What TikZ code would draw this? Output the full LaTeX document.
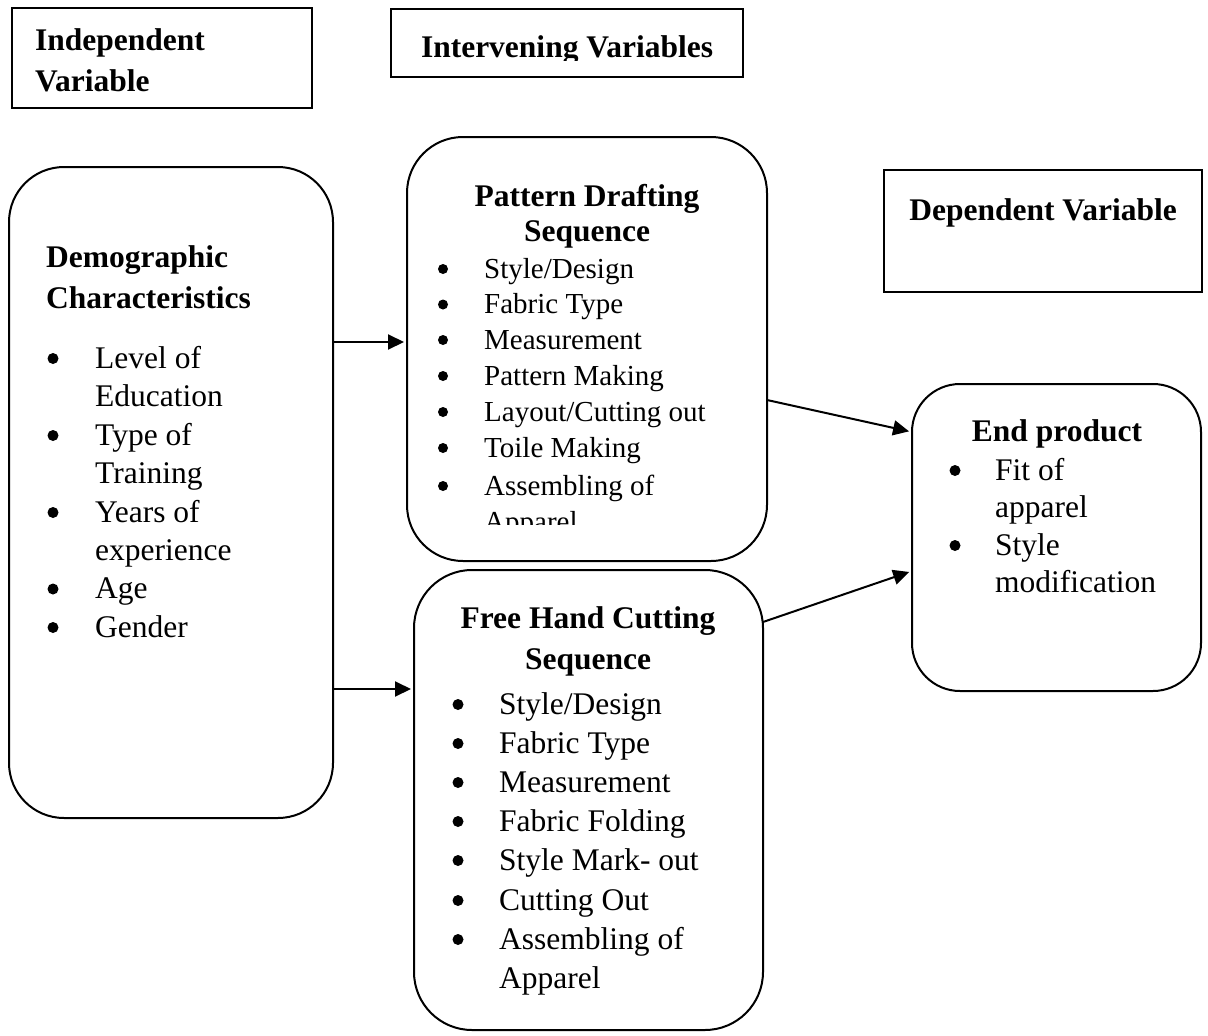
\documentclass[tikz,border=0pt]{standalone}
\usepackage{fontspec}
\setmainfont{Liberation Serif}
\usetikzlibrary{arrows.meta}
\begin{document}
\begin{tikzpicture}[x=1pt,y=-1pt,
  box/.style={draw, line width=2pt, rectangle, inner sep=0pt, outer sep=0pt, anchor=north west},
  rbox/.style={box, rounded corners=#1},
  head/.style={inner sep=0pt, anchor=base, font=\bfseries\fontsize{31.5}{38}\selectfont},
  headl/.style={inner sep=0pt, anchor=base west, font=\bfseries\fontsize{31.5}{38}\selectfont},
  item/.style={inner sep=0pt, anchor=base west, font=\fontsize{31.5}{38}\selectfont},
  itemsm/.style={inner sep=0pt, anchor=base west, font=\fontsize{29}{35}\selectfont},
  bul/.style={circle, fill=black, draw=none, inner sep=0pt, minimum size=#1},
  conn/.style={line width=2pt, shorten >=3pt, -{Triangle[length=16pt,width=15pt]}}
]
\fill[white, use as bounding box] (0,0) rectangle (1208,1036);

% ---- top label boxes ----
\node[box, minimum width=300pt, minimum height=100pt] (iv) at (12,8) {};
\node[headl] (ivt1) at (35,50) {Independent};
\node[headl] (ivt2) at (35,91) {Variable};

\node[box, minimum width=352pt, minimum height=68pt] (mv) at (391,9) {};
\begin{scope}
  \clip (391,9) rectangle (743,60);
  \node[head] (mvt) at (567,57) {Intervening Variables};
\end{scope}

\node[box, minimum width=318pt, minimum height=122pt] (dv) at (884,170) {};
\node[head] (dvt) at (1043,220) {Dependent Variable};

% ---- Demographic ----
\node[rbox=55pt, minimum width=324pt, minimum height=651pt] (demo) at (9,167) {};
\node[headl] (dh1) at (46,267) {Demographic};
\node[headl] (dh2) at (46,308) {Characteristics};
\foreach \n/\y/\b/\t in {1/368/1/{Level of}, 2/406.5/0/{Education}, 3/445/1/{Type of}, 4/483.5/0/{Training},
                         5/522/1/{Years of}, 6/560/0/{experience}, 7/598.5/1/{Age}, 8/637/1/{Gender}}{
  \ifnum\b=1 \node[bul=11pt] (db\n) at (53,\y-9.5) {};\fi
  \node[item] (d\n) at (95,\y) {\t};
}

% ---- Pattern Drafting ----
\node[rbox=56pt, minimum width=360pt, minimum height=424pt] (pat) at (407,137) {};
\node[head] (ph1) at (587,206) {Pattern Drafting};
\node[head] (ph2) at (587,241) {Sequence};
\foreach \n/\y/\t in {1/278/{Style/Design}, 2/313.5/{Fabric Type}, 3/349/{Measurement}, 4/385/{Pattern Making},
                      5/421/{Layout/Cutting out}, 6/457/{Toile Making}, 7/495/{Assembling of}}{
  \node[bul=10pt] (pb\n) at (443,\y-9) {};
  \node[itemsm] (p\n) at (484,\y) {\t};
}
\begin{scope}
  \clip (407,137) rectangle (767,524);
  \node[itemsm] (p8) at (484,531) {Apparel};
\end{scope}

% ---- Free Hand Cutting ----
\node[rbox=58pt, minimum width=349pt, minimum height=460pt] (fhc) at (414,570) {};
\node[head] (fh1) at (588,628) {Free Hand Cutting};
\node[head] (fh2) at (588,669) {Sequence};
\foreach \n/\y/\b/\t in {1/714/1/{Style/Design}, 2/753/1/{Fabric Type}, 3/792/1/{Measurement}, 4/831/1/{Fabric Folding},
                         5/870/1/{Style Mark- out}, 6/910/1/{Cutting Out}, 7/949/1/{Assembling of}, 8/988/0/{Apparel}}{
  \ifnum\b=1 \node[bul=11pt] (fb\n) at (458,\y-9.5) {};\fi
  \node[item] (f\n) at (499,\y) {\t};
}

% ---- End product ----
\node[rbox=48pt, minimum width=289pt, minimum height=307pt] (endp) at (912,384) {};
\node[head] (eh) at (1057,441) {End product};
\foreach \n/\y/\b/\t in {1/480/1/{Fit of}, 2/517/0/{apparel}, 3/555/1/{Style}, 4/592/0/{modification}}{
  \ifnum\b=1 \node[bul=11pt] (eb\n) at (955,\y-9.5) {};\fi
  \node[item] (e\n) at (995,\y) {\t};
}

% ---- connectors ----
\draw[conn] (demo.east |- 0,342) -- (pat.west |- 0,342);
\draw[conn] (demo.east |- 0,689) -- (fhc.west |- 0,689);
\draw[conn] (pat.east |- 0,400) -- (endp.west |- 0,432);
\draw[conn] (fhc.east |- 0,622) -- (endp.west |- 0,571);
\end{tikzpicture}
\end{document}
